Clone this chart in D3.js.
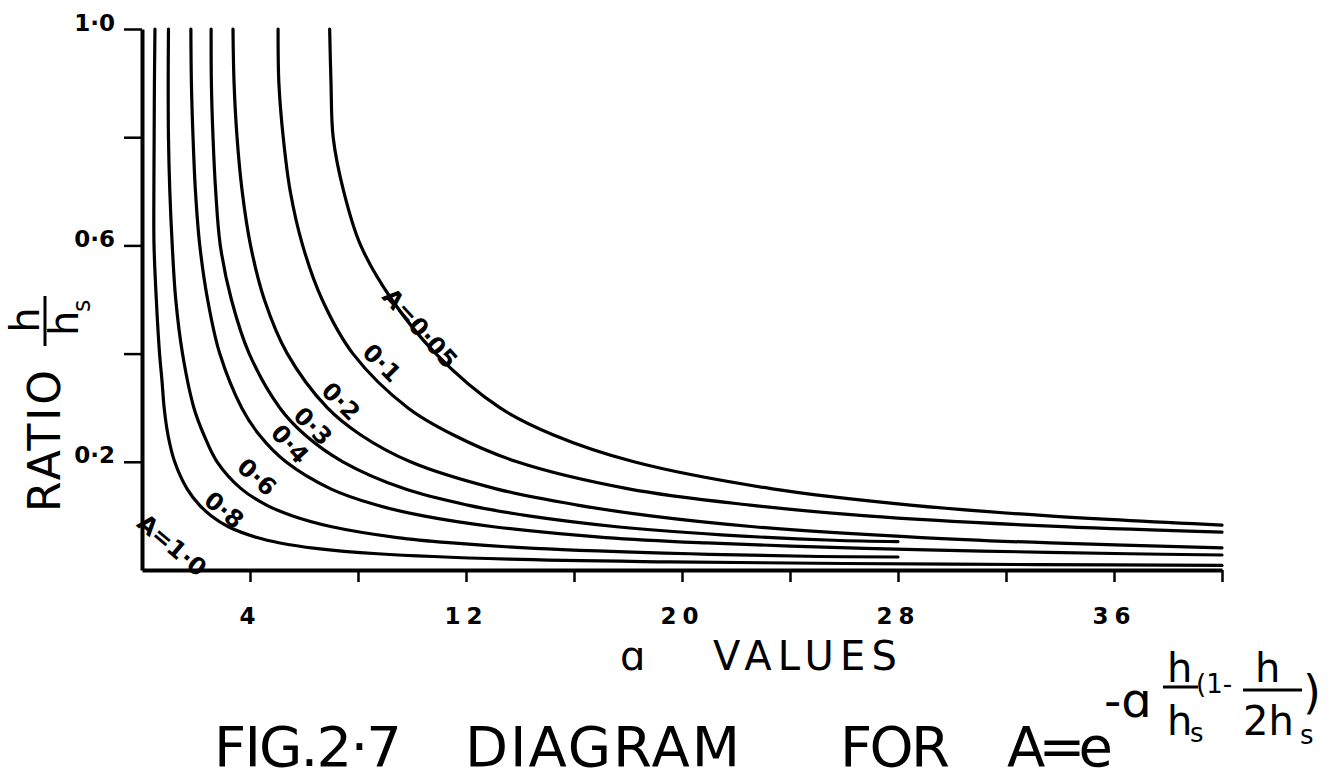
<!DOCTYPE html>
<html>
<head>
<meta charset="utf-8">
<script src="https://cdn.jsdelivr.net/npm/d3@7"></script>
<style>
  body { margin: 0; background: #fff; }
  svg { display: block; }
  text { font-family: "DejaVu Sans", sans-serif; fill: #000; }
</style>
</head>
<body>
<svg id="chart" width="1331" height="782"></svg>
<script>
// Tick values and labels
const xTickValues = [4, 8, 12, 16, 20, 24, 28, 32, 36, 40];
const xTickLabels = [4, 12, 20, 28, 36];
const yTickValues = [0.2, 0.4, 0.6, 0.8, 1.0];
const yTickLabels = [0.2, 0.6, 1.0];

// Curves of constant A : [a value, h/hs]
const curve005 = [[6.95, 1.0], [7.0, 0.9], [7.08, 0.8], [7.47, 0.7], [8.1, 0.6], [9.25, 0.5], [10.88, 0.4], [13.25, 0.3], [15.22, 0.25], [18.22, 0.2], [23.35, 0.15], [28.46, 0.12], [33.58, 0.1], [40, 0.083]];
const curve01 = [[5.04, 1.0], [5.07, 0.9], [5.23, 0.8], [5.49, 0.7], [5.95, 0.6], [6.67, 0.5], [7.81, 0.4], [9.84, 0.3], [11.52, 0.25], [13.89, 0.2], [18.02, 0.15], [22.52, 0.12], [26.84, 0.1], [34.11, 0.08], [40, 0.07]];
const curve02 = [[3.37, 1.0], [3.41, 0.9], [3.52, 0.8], [3.71, 0.7], [4.02, 0.6], [4.53, 0.5], [5.38, 0.4], [6.86, 0.3], [8.09, 0.25], [9.94, 0.2], [13.12, 0.15], [16.13, 0.12], [18.84, 0.1], [22.66, 0.08], [28.87, 0.06], [33.64, 0.05], [40, 0.041]];
const curve03 = [[2.56, 1.0], [2.57, 0.9], [2.63, 0.8], [2.73, 0.7], [2.9, 0.6], [3.31, 0.5], [3.97, 0.4], [5.1, 0.3], [6.03, 0.25], [7.44, 0.2], [9.73, 0.15], [12.06, 0.12], [14.32, 0.1], [17.58, 0.08], [21.46, 0.065], [25.6, 0.055], [28, 0.0525]];
const curve04 = [[1.81, 1.0], [1.83, 0.9], [1.89, 0.8], [1.98, 0.7], [2.14, 0.6], [2.43, 0.5], [2.88, 0.4], [3.69, 0.3], [4.34, 0.25], [5.33, 0.2], [6.99, 0.15], [8.69, 0.12], [10.42, 0.1], [13.02, 0.08], [17.18, 0.06], [20.92, 0.05], [26.79, 0.04], [31.11, 0.035], [36.55, 0.03], [40, 0.0277]];
const curve06 = [[0.98, 1.0], [0.97, 0.9], [0.98, 0.8], [1.03, 0.7], [1.12, 0.6], [1.25, 0.5], [1.5, 0.4], [1.92, 0.3], [2.29, 0.25], [2.78, 0.2], [3.68, 0.15], [4.61, 0.12], [5.58, 0.1], [7.03, 0.08], [9.45, 0.06], [11.49, 0.05], [14.54, 0.04], [20.3, 0.03], [25.1, 0.025], [28, 0.024]];
const curve08 = [[0.48, 1.0], [0.46, 0.9], [0.45, 0.8], [0.44, 0.7], [0.445, 0.6], [0.53, 0.5], [0.65, 0.4], [0.74, 0.35], [0.82, 0.3], [0.96, 0.25], [1.21, 0.2], [1.67, 0.15], [2.13, 0.12], [2.57, 0.1], [3.2, 0.08], [4.26, 0.06], [5.11, 0.05], [6.43, 0.04], [8.73, 0.03], [13.6, 0.02], [19.5, 0.015], [26, 0.012], [33.2, 0.01], [40, 0.0085]];

// Curve labels: text, [a, h/hs] anchor, rotation
const labelTexts = ["A=0·05", "0·1", "0·2", "0·3", "0·4", "0·6", "0·8", "A=1·0"];
const labelAnchors = [[10.3, 0.447], [8.89, 0.383], [7.37, 0.312], [6.33, 0.266], [5.48, 0.233], [4.26, 0.172], [3.04, 0.111], [1.11, 0.046]];
const labelAngles = [48, 45, 45, 45, 48, 42, 40, 40];

const curves = [curve005, curve01, curve02, curve03, curve04, curve06, curve08];

const svg = d3.select('#chart');

const x = d3.scaleLinear().domain([0, 40]).range([142, 1222]);
const y = d3.scaleLinear().domain([0, 1]).range([570, 29]);

const fmt = d => d.toFixed(1).replace('.', '·');

// x axis
const xAxis = svg.append('g')
  .attr('transform', `translate(0,${y(0)})`)
  .call(d3.axisBottom(x)
    .tickValues(xTickValues)
    .tickSize(12)
    .tickSizeOuter(0)
    .tickPadding(26)
    .tickFormat(d => (xTickLabels.includes(d) ? String(d) : '')));

xAxis.select('.domain').attr('stroke-width', 4);
xAxis.selectAll('.tick line').attr('stroke-width', 2.5);
xAxis.selectAll('.tick text')
  .attr('font-size', 23)
  .attr('font-weight', 'bold')
  .attr('letter-spacing', 6)
  .attr('font-family', '"DejaVu Sans", sans-serif');

// y axis
const yAxis = svg.append('g')
  .attr('transform', `translate(${x(0)},0)`)
  .call(d3.axisLeft(y)
    .tickValues(yTickValues)
    .tickSize(18)
    .tickSizeOuter(0)
    .tickPadding(9)
    .tickFormat(d => (yTickLabels.includes(d) ? fmt(d) : '')));

yAxis.select('.domain').attr('stroke-width', 4);
yAxis.selectAll('.tick line').attr('stroke-width', 2.5);
yAxis.selectAll('.tick text')
  .attr('font-size', 23)
  .attr('font-weight', 'bold')
  .attr('dy', '0.05em')
  .attr('font-family', '"DejaVu Sans", sans-serif');

// curves
const line = d3.line()
  .x(d => x(d[0]))
  .y(d => y(d[1]))
  .curve(d3.curveCatmullRom.alpha(0.5));

svg.append('g')
  .selectAll('path')
  .data(curves)
  .join('path')
  .attr('d', line)
  .attr('fill', 'none')
  .attr('stroke', '#000')
  .attr('stroke-width', 3.2)
  .attr('stroke-linecap', 'round');

// curve labels
svg.append('g')
  .selectAll('text')
  .data(labelTexts)
  .join('text')
  .attr('transform', (d, i) => `translate(${x(labelAnchors[i][0])},${y(labelAnchors[i][1])}) rotate(${labelAngles[i]})`)
  .attr('text-anchor', 'middle')
  .attr('dy', '0.35em')
  .attr('font-size', 24)
  .attr('font-weight', 'bold')
  .text(d => d);

// y axis title, rotated
const yTitle = svg.append('g').attr('transform', 'rotate(-90)');
yTitle.append('text')
  .attr('x', -512).attr('y', 60)
  .attr('font-size', 44)
  .attr('textLength', 142)
  .attr('lengthAdjust', 'spacing')
  .text('RATIO');
yTitle.append('text')
  .attr('x', -320).attr('y', 39)
  .attr('text-anchor', 'middle')
  .attr('font-size', 40)
  .text('h');
yTitle.append('line')
  .attr('x1', -346).attr('x2', -296)
  .attr('y1', 45).attr('y2', 45)
  .attr('stroke', '#000').attr('stroke-width', 3);
yTitle.append('text')
  .attr('x', -336).attr('y', 78)
  .attr('font-size', 40)
  .text('h');
yTitle.append('text')
  .attr('x', -312).attr('y', 90)
  .attr('font-size', 24)
  .text('s');

// x axis title
svg.append('text')
  .attr('x', 620).attr('y', 670)
  .attr('font-size', 40)
  .text('ɑ');
svg.append('text')
  .attr('x', 713).attr('y', 670)
  .attr('font-size', 40)
  .attr('textLength', 184)
  .attr('lengthAdjust', 'spacing')
  .text('VALUES');

// figure caption
const caption = [
  { t: 'FIG.2·7', x: 214, w: 188 },
  { t: 'DIAGRAM', x: 465, w: 275 },
  { t: 'FOR', x: 840, w: 110 },
  { t: 'A=e', x: 1007, w: 106 }
];
svg.append('g')
  .selectAll('text')
  .data(caption)
  .join('text')
  .attr('x', d => d.x)
  .attr('y', 766)
  .attr('font-size', 56)
  .attr('textLength', d => d.w)
  .attr('lengthAdjust', 'spacing')
  .text(d => d.t);

// exponent of e
const expo = svg.append('g');
expo.append('text').attr('x', 1104).attr('y', 717).attr('font-size', 48).text('-ɑ');
expo.append('text').attr('x', 1167).attr('y', 682).attr('font-size', 40).text('h');
expo.append('line').attr('x1', 1163).attr('x2', 1198).attr('y1', 687).attr('y2', 687)
  .attr('stroke', '#000').attr('stroke-width', 3);
expo.append('text').attr('x', 1167).attr('y', 735).attr('font-size', 40).text('h');
expo.append('text').attr('x', 1190).attr('y', 742).attr('font-size', 26).text('s');
expo.append('text').attr('x', 1196).attr('y', 693).attr('font-size', 26).text('(1-');
expo.append('text').attr('x', 1255).attr('y', 682).attr('font-size', 40).text('h');
expo.append('line').attr('x1', 1243).attr('x2', 1302).attr('y1', 690).attr('y2', 690)
  .attr('stroke', '#000').attr('stroke-width', 3);
expo.append('text').attr('x', 1243).attr('y', 735).attr('font-size', 40).text('2h');
expo.append('text').attr('x', 1300).attr('y', 744).attr('font-size', 26).text('s');
expo.append('text').attr('x', 1303).attr('y', 708).attr('font-size', 46).text(')');
</script>
</body>
</html>
